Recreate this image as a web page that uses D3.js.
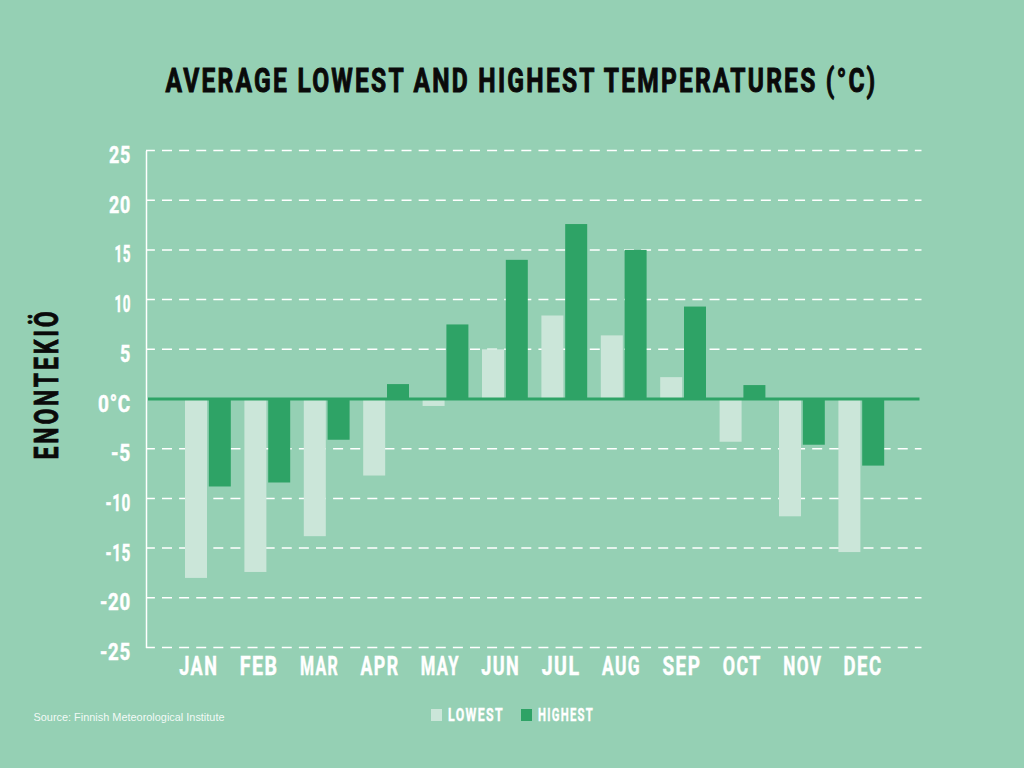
<!DOCTYPE html>
<html><head><meta charset="utf-8">
<script src="https://cdnjs.cloudflare.com/ajax/libs/d3/7.8.5/d3.min.js"></script>
<style>
html,body{margin:0;padding:0;background:#95d0b4;}
svg{display:block;}
.cond{font-family:Roboto,"Liberation Sans",sans-serif;font-weight:700;}
</style></head><body>
<svg id="c" width="1024" height="768"></svg>
<script>
const months=["JAN","FEB","MAR","APR","MAY","JUN","JUL","AUG","SEP","OCT","NOV","DEC"];
const lowest=[-18,-17.4,-13.8,-7.7,-0.7,5,8.4,6.4,2.2,-4.3,-11.8,-15.4];
const highest=[-8.8,-8.4,-4.1,1.5,7.5,14,17.6,15,9.3,1.4,-4.6,-6.7];
const yTicks=[25,20,15,10,5,0,-5,-10,-15,-20,-25];
const seriesNames=["LOWEST","HIGHEST"];
const seriesColors=["#cbe6d9","#2ea366"];
const titleText="AVERAGE LOWEST AND HIGHEST TEMPERATURES (°C)";
const yTitle="ENONTEKIÖ";
const sourceText="Source: Finnish Meteorological Institute";

const svg=d3.select("#c");
const y=d3.scaleLinear().domain([-25,25]).range([647.5,150.5]);
const x=d3.scaleBand().domain(months).range([177.8,890.6]);
const x1=d3.scaleBand().domain(seriesNames).range([7.2,53]).paddingInner(0.076);
const xLabel=d3.scalePoint().domain(months).range([198.3,862.6]);

// width of a tick label in the reference's narrow face
const tickWidth=s=>{let w=0;for(const c of String(s)){w+=c==="1"?5.5:c==="-"?9:c==="°"?10:c==="C"?12:11;}return w;};

const title=svg.append("text").attr("class","cond").attr("y",0).attr("x",0)
  .attr("font-size",33).attr("fill","#0a0a0a").attr("stroke","#0a0a0a").attr("stroke-width",1)
  .attr("letter-spacing",3).text(titleText);
const titleScale=712/title.node().getComputedTextLength();
title.attr("transform",`translate(165.5,92) scale(${titleScale},1)`);

svg.append("text").attr("class","cond").attr("transform","translate(58,384) rotate(-90)")
  .attr("text-anchor","middle").attr("font-size",33).attr("fill","#0a0a0a").attr("stroke","#0a0a0a").attr("stroke-width",0.8)
  .attr("letter-spacing",4).attr("textLength",151).attr("lengthAdjust","spacingAndGlyphs").text(yTitle);

// gridlines
svg.append("g").selectAll("line").data(yTicks.filter(d=>d!==0)).join("line")
  .attr("x1",146).attr("x2",921.5).attr("y1",d=>y(d)).attr("y2",d=>y(d))
  .attr("stroke","#fff").attr("stroke-width",1.5).attr("stroke-dasharray","10 7.11").attr("stroke-dashoffset",1.11);

// y axis
const yAxis=d3.axisLeft(y).tickValues(yTicks).tickSize(0).tickPadding(15).tickFormat(d=>d===0?"0°C":d);
const gy=svg.append("g").attr("transform","translate(146,0)").call(yAxis);
gy.select(".domain").attr("stroke","#fff").attr("stroke-width",1.5);
gy.selectAll("text").attr("class","cond").attr("font-size",24).attr("fill","#fff").attr("stroke","#fff").attr("stroke-width",0.5)
  .attr("y",12).attr("dy",0).attr("letter-spacing",1).attr("textLength",d=>tickWidth(d===0?"0°C":d)).attr("lengthAdjust","spacingAndGlyphs")
  .style("font-family","Roboto").style("font-weight",700);

// bars
const rows=months.map((m,i)=>({m,vals:[lowest[i],highest[i]]}));
const g=svg.append("g").selectAll("g").data(rows).join("g").attr("transform",d=>`translate(${x(d.m)},0)`);
g.selectAll("rect").data(d=>d.vals.map((v,i)=>({v,s:seriesNames[i],i}))).join("rect")
  .attr("x",d=>x1(d.s)).attr("width",x1.bandwidth())
  .attr("y",d=>y(Math.max(0,d.v))).attr("height",d=>Math.abs(y(d.v)-y(0)))
  .attr("fill",d=>seriesColors[d.i]);

// zero line
svg.append("line").attr("x1",148).attr("x2",919.5).attr("y1",y(0)).attr("y2",y(0))
  .attr("stroke",seriesColors[1]).attr("stroke-width",3.2);

// x axis labels
const xAxis=d3.axisBottom(xLabel).tickSize(0).tickPadding(0);
const gx=svg.append("g").attr("transform","translate(0,675)").call(xAxis);
gx.select(".domain").remove();
gx.selectAll("text").attr("class","cond").attr("y",0).attr("dy",0).attr("font-size",25).attr("fill","#fff").attr("stroke","#fff").attr("stroke-width",0.5)
  .style("font-family","Roboto").style("font-weight",700)
  .attr("letter-spacing",2).attr("textLength",39).attr("lengthAdjust","spacingAndGlyphs");

// source
svg.append("text").attr("x",33.5).attr("y",721).attr("font-family",'"Liberation Sans",sans-serif')
  .attr("font-size",11).attr("fill","#fff").attr("fill-opacity",0.9).attr("textLength",191).attr("lengthAdjust","spacingAndGlyphs").text(sourceText);

// legend
const legendX=[431,521];
const lg=svg.append("g").selectAll("g").data(seriesNames).join("g").attr("transform",(d,i)=>`translate(${legendX[i]},709)`);
lg.append("rect").attr("width",11).attr("height",12).attr("fill",(d,i)=>seriesColors[i]);
lg.append("text").attr("class","cond").attr("x",17).attr("y",12.3).attr("font-size",18).attr("fill","#fff").attr("stroke","#fff").attr("stroke-width",0.4)
  .attr("letter-spacing",2).attr("textLength",56).attr("lengthAdjust","spacingAndGlyphs").text(d=>d);
</script>
</body></html>
